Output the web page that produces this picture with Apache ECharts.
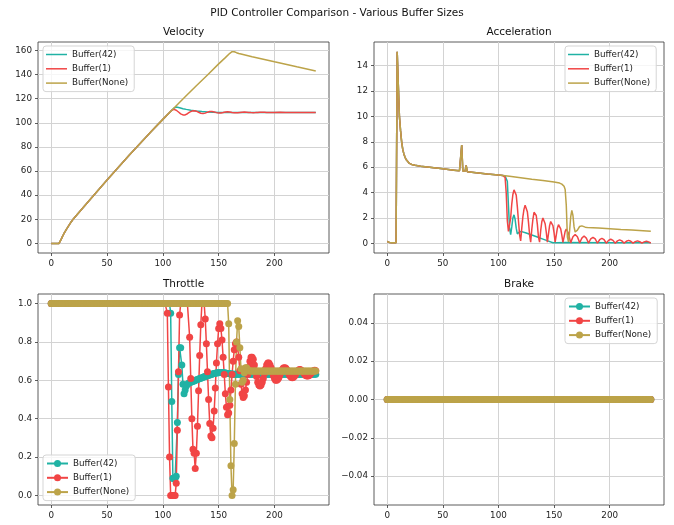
<!DOCTYPE html>
<html>
<head>
<meta charset="utf-8">
<title>PID Controller Comparison - Various Buffer Sizes</title>
<script src="https://cdn.jsdelivr.net/npm/echarts@6/dist/echarts.min.js"></script>
<style>
  html, body { margin: 0; padding: 0; background: #fff; }
  #chart { width: 674px; height: 525px; }
</style>
</head>
<body>
<div id="chart"></div>
<script>
// ---- data ----
const seriesNames = ['Buffer(42)', 'Buffer(1)', 'Buffer(None)'];

const xTicks = [0, 50, 100, 150, 200];
const velocityTicks = [0, 20, 40, 60, 80, 100, 120, 140, 160];
const accelTicks = [0, 2, 4, 6, 8, 10, 12, 14];
const throttleTicks = [0, 0.2, 0.4, 0.6, 0.8, 1.0];
const brakeTicks = [-0.04, -0.02, 0, 0.02, 0.04];

// velocity: shared ramp, then each buffer's tail  [step, value]
const velocityRamp = [[0, 0], [7, 0], [8, 1], [9, 3.5], [10, 5.6], [11, 7.4], [12, 9.1], [14, 12.2], [16, 15.1],
  [18, 18], [20, 20.5], [30, 31.3], [50, 52.5], [70, 73.2], [90, 93.2], [100, 102.8], [106, 108.5]];
const velocity42Tail = [[107, 109.5], [108, 110.4], [109, 111.3], [110, 112.1], [111, 112.7], [112, 113], [113, 112.9],
  [115, 112.4], [118, 111.7], [121, 111.1], [125, 110.4], [130, 109.8], [135, 109.3], [140, 109], [145, 108.8],
  [150, 108.6], [160, 108.5], [237, 108.5]];
const velocity1Tail = [[107, 109.5], [108, 110.4], [109, 111], [110, 111.1], [111, 110.9], [112, 110.4], [113, 109.7],
  [114, 108.9], [115, 108.1], [116, 107.4], [117, 106.9], [118, 106.5], [119, 106.4], [120, 106.5], [121, 106.9],
  [122, 107.5], [123, 108.2], [124, 108.8], [125, 109.3], [126, 109.7], [127, 109.95], [128, 110], [129, 109.9],
  [130, 109.6], [131, 109.2], [132, 108.7], [133, 108.2], [134, 107.9], [135, 107.65], [136, 107.6], [137, 107.7],
  [138, 108], [139, 108.4], [140, 108.8], [141, 109.1], [142, 109.3], [143, 109.4], [144, 109.4], [145, 109.3],
  [146, 109], [147, 108.7], [148, 108.4], [149, 108.2], [150, 108.05], [151, 108], [152, 108.05], [153, 108.2],
  [154, 108.45], [155, 108.7], [156, 108.9], [157, 109.05], [158, 109.1], [159, 109.05], [160, 108.9], [161, 108.7],
  [162, 108.5], [163, 108.35], [164, 108.25], [165, 108.2], [167, 108.3], [169, 108.55], [171, 108.8], [173, 108.9],
  [175, 108.8], [177, 108.6], [179, 108.45], [181, 108.4], [183, 108.45], [185, 108.6], [187, 108.72], [189, 108.75],
  [191, 108.7], [193, 108.6], [195, 108.52], [197, 108.5], [200, 108.55], [205, 108.65], [210, 108.6], [215, 108.55],
  [220, 108.6], [230, 108.6], [237, 108.6]];
const velocityNoneTail = [[110, 112.3], [120, 121.5], [130, 130.7], [140, 139.6], [150, 148.8], [156, 154],
  [160, 157.6], [161, 158.4], [162, 158.9], [163, 159], [164, 158.9], [165, 158.6], [166, 158.1], [167, 157.7],
  [168, 157.4], [170, 157], [180, 154.8], [200, 150.5], [220, 146.4], [237, 143]];

// acceleration: shared start, then tails
const accelShared = [[0, 0.15], [1, 0.12], [2, 0.08], [3, 0.06], [4, 0.05], [5, 0.05], [6, 0.05], [7, 0.05], [8, 0.05],
  [9, 15.1], [10, 12.5], [11, 10], [12, 8.9], [13, 8], [14, 7.4], [15, 7.05], [16, 6.8], [17, 6.6], [18, 6.45],
  [20, 6.3], [22, 6.22], [25, 6.15], [30, 6.07], [40, 5.97], [50, 5.87], [60, 5.77], [65, 5.72], [66, 5.71],
  [67, 7.75], [68, 5.7], [69, 5.66], [70, 5.68], [71, 6.15], [72, 5.65], [80, 5.57], [90, 5.47], [100, 5.38], [104, 5.34]];
const accel42Tail = [[105, 5.33], [106, 5.31], [107, 5.28], [108, 4.9], [109, 3], [110, 1.2], [111, 0.7], [112, 1.3],
  [113, 2], [114, 2.25], [115, 1.9], [116, 1.2], [117, 0.75], [118, 0.8], [119, 0.92], [120, 0.95], [121, 0.93],
  [125, 0.82], [130, 0.66], [135, 0.5], [140, 0.34], [145, 0.18], [149, 0.05], [150, 0.03], [152, 0.06], [160, 0.07],
  [200, 0.06], [237, 0.05]];
// Buffer(1) acceleration, one value per step from step 105
const accel1Start = 105;
const accel1Tail = [
  5.33, 5.2, 4.0, 1.8, 0.95, 0.85, 2.0, 3.1, 3.85, 4.22,      // 105
  4.25, 3.8, 2.9, 1.8, 0.7, 0.2, 1.2, 2.1, 2.7, 3.0,          // 115
  2.95, 2.5, 1.7, 0.7, 0.1, 1.1, 1.9, 2.45, 2.55, 2.2,        // 125
  1.5, 0.5, 0.1, 1.0, 1.7, 2.0, 1.95, 1.55, 0.9, 0.1,         // 135
  0.75, 1.4, 1.72, 1.72, 1.4, 0.85, 0.1, 0.65, 1.2, 1.48,     // 145
  1.45, 1.15, 0.65, 0.08, 0.5, 0.95, 1.12, 1.08, 0.8, 0.4,    // 155
  0.04, 0.3, 0.52, 0.66, 0.7, 0.66, 0.52, 0.3, 0.03, 0.23,    // 165
  0.42, 0.54, 0.58, 0.54, 0.42, 0.23, 0.02, 0.19, 0.35, 0.45, // 175
  0.48, 0.45, 0.35, 0.19, 0.02, 0.16, 0.29, 0.37, 0.4, 0.37,  // 185
  0.29, 0.16, 0.02, 0.13, 0.24, 0.31, 0.33, 0.31, 0.24, 0.13, // 195
  0.02, 0.11, 0.2, 0.26, 0.28, 0.26, 0.2, 0.11, 0.02, 0.1,    // 205
  0.17, 0.22, 0.24, 0.22, 0.17, 0.1, 0.02, 0.08, 0.14, 0.18,  // 215
  0.2, 0.18, 0.14, 0.08, 0.02, 0.07, 0.12, 0.16, 0.17, 0.16,  // 225
  0.12, 0.07, 0.03                                            // 235
];
const accelNoneTail = [[105, 5.33], [110, 5.28], [120, 5.17], [130, 5.06], [140, 4.96], [150, 4.84], [155, 4.75],
  [157, 4.67], [158, 4.6], [159, 4.5], [160, 4.25], [161, 3], [162, 0.5], [163, 0.12], [164, 1], [165, 2.1],
  [166, 2.6], [167, 2.2], [168, 1.3], [169, 0.9], [170, 0.95], [171, 1.05], [172, 1.2], [173, 1.33], [174, 1.4],
  [175, 1.38], [176, 1.32], [178, 1.28], [180, 1.26], [190, 1.22], [200, 1.16], [210, 1.1], [220, 1.05],
  [230, 1], [237, 0.96]];

// throttle, one value per step (0..237)
const throttle42 = [
  1, 1, 1, 1, 1, 1, 1, 1, 1, 1,   1, 1, 1, 1, 1, 1, 1, 1, 1, 1,   // 0
  1, 1, 1, 1, 1, 1, 1, 1, 1, 1,   1, 1, 1, 1, 1, 1, 1, 1, 1, 1,   // 20
  1, 1, 1, 1, 1, 1, 1, 1, 1, 1,   1, 1, 1, 1, 1, 1, 1, 1, 1, 1,   // 40
  1, 1, 1, 1, 1, 1, 1, 1, 1, 1,   1, 1, 1, 1, 1, 1, 1, 1, 1, 1,   // 60
  1, 1, 1, 1, 1, 1, 1, 1, 1, 1,   1, 1, 1, 1, 1, 1, 1, 1, 1, 1,   // 80
  1, 1, 1, 1, 1, 1, 1, 0.95, 0.49, 0.09,                          // 100
  0.085, 0.09, 0.1, 0.38, 0.63, 0.77, 0.77, 0.68, 0.58, 0.53,     // 110
  0.55, 0.57, 0.58, 0.585, 0.588, 0.59, 0.592, 0.595, 0.597, 0.6, // 120
  0.602, 0.604, 0.607, 0.609, 0.611, 0.614, 0.616, 0.618, 0.62, 0.622, // 130
  0.624, 0.626, 0.628, 0.63, 0.632, 0.634, 0.636, 0.637, 0.638, 0.639, // 140
  0.64, 0.641, 0.641, 0.641, 0.64, 0.639, 0.638, 0.637, 0.636, 0.635,  // 150
  0.634, 0.633, 0.633, 0.632, 0.632, 0.632, 0.632, 0.631, 0.631, 0.631, // 160
  0.631, 0.632, 0.632, 0.631, 0.631, 0.632, 0.632, 0.631, 0.631, 0.632, // 170
  0.632, 0.631, 0.631, 0.632, 0.632, 0.631, 0.631, 0.632, 0.632, 0.631, // 180
  0.631, 0.632, 0.632, 0.631, 0.631, 0.632, 0.632, 0.631, 0.631, 0.632, // 190
  0.632, 0.631, 0.631, 0.632, 0.632, 0.631, 0.631, 0.632, 0.632, 0.631, // 200
  0.631, 0.632, 0.632, 0.631, 0.631, 0.632, 0.632, 0.631, 0.631, 0.632, // 210
  0.632, 0.631, 0.631, 0.632, 0.632, 0.631, 0.631, 0.632, 0.632, 0.631, // 220
  0.631, 0.632, 0.632, 0.631, 0.631, 0.632, 0.632, 0.631              // 230
];
const throttle1 = [
  1, 1, 1, 1, 1, 1, 1, 1, 1, 1,   1, 1, 1, 1, 1, 1, 1, 1, 1, 1,   // 0
  1, 1, 1, 1, 1, 1, 1, 1, 1, 1,   1, 1, 1, 1, 1, 1, 1, 1, 1, 1,   // 20
  1, 1, 1, 1, 1, 1, 1, 1, 1, 1,   1, 1, 1, 1, 1, 1, 1, 1, 1, 1,   // 40
  1, 1, 1, 1, 1, 1, 1, 1, 1, 1,   1, 1, 1, 1, 1, 1, 1, 1, 1, 1,   // 60
  1, 1, 1, 1, 1, 1, 1, 1, 1, 1,   1, 1, 1, 1, 1, 1, 1, 1, 1, 1,   // 80
  1, 1, 1, 1, 0.95, 0.565, 0.2, 0, 0, 0,                          // 100
  0, 0, 0.063, 0.34, 0.645, 0.94, 1, 1, 1, 1,                     // 110
  1, 1, 1, 1, 0.825, 0.61, 0.4, 0.24, 0.22, 0.14,                 // 120
  0.22, 0.36, 0.545, 0.73, 0.89, 1, 1, 1, 0.92, 0.79,             // 130
  0.645, 0.5, 0.375, 0.31, 0.3, 0.35, 0.44, 0.56, 0.69, 0.79,     // 140
  0.87, 0.895, 0.87, 0.81, 0.72, 0.63, 0.53, 0.46, 0.42, 0.43,    // 150
  0.47, 0.55, 0.63, 0.7, 0.76, 0.79, 0.8, 0.77, 0.72, 0.65,       // 160
  0.58, 0.53, 0.51, 0.52, 0.55, 0.59, 0.63, 0.67, 0.7, 0.72,      // 170
  0.72, 0.71, 0.68, 0.65, 0.62, 0.59, 0.575, 0.57, 0.575, 0.59,   // 180
  0.61, 0.635, 0.66, 0.68, 0.69, 0.69, 0.68, 0.665, 0.645, 0.625, // 190
  0.61, 0.6, 0.6, 0.605, 0.615, 0.63, 0.645, 0.657, 0.664, 0.666, // 200
  0.664, 0.657, 0.645, 0.632, 0.622, 0.616, 0.614, 0.616, 0.622, 0.632, // 210
  0.642, 0.65, 0.655, 0.656, 0.653, 0.647, 0.639, 0.631, 0.625, 0.622, // 220
  0.622, 0.625, 0.631, 0.638, 0.645, 0.65, 0.652, 0.65            // 230
];
const throttleNone = [
  1, 1, 1, 1, 1, 1, 1, 1, 1, 1,   1, 1, 1, 1, 1, 1, 1, 1, 1, 1,   // 0
  1, 1, 1, 1, 1, 1, 1, 1, 1, 1,   1, 1, 1, 1, 1, 1, 1, 1, 1, 1,   // 20
  1, 1, 1, 1, 1, 1, 1, 1, 1, 1,   1, 1, 1, 1, 1, 1, 1, 1, 1, 1,   // 40
  1, 1, 1, 1, 1, 1, 1, 1, 1, 1,   1, 1, 1, 1, 1, 1, 1, 1, 1, 1,   // 60
  1, 1, 1, 1, 1, 1, 1, 1, 1, 1,   1, 1, 1, 1, 1, 1, 1, 1, 1, 1,   // 80
  1, 1, 1, 1, 1, 1, 1, 1, 1, 1,   1, 1, 1, 1, 1, 1, 1, 1, 1, 1,   // 100
  1, 1, 1, 1, 1, 1, 1, 1, 1, 1,   1, 1, 1, 1, 1, 1, 1, 1, 1, 1,   // 120
  1, 1, 1, 1, 1, 1, 1, 1, 1, 1,                                   // 140
  1, 1, 1, 1, 1, 1, 1, 1, 1, 0.895,                               // 150
  0.5, 0.155, 0, 0.03, 0.27, 0.58, 0.8, 0.91, 0.88, 0.77,         // 160
  0.66, 0.59, 0.6, 0.64, 0.665, 0.665, 0.657, 0.65, 0.648, 0.648, // 170
  0.648, 0.647, 0.648, 0.648, 0.647, 0.648, 0.648, 0.647, 0.648, 0.648, // 180
  0.647, 0.648, 0.648, 0.647, 0.648, 0.648, 0.647, 0.648, 0.648, 0.647, // 190
  0.648, 0.648, 0.647, 0.648, 0.648, 0.647, 0.648, 0.648, 0.647, 0.648, // 200
  0.648, 0.647, 0.648, 0.648, 0.647, 0.648, 0.648, 0.647, 0.648, 0.648, // 210
  0.647, 0.648, 0.648, 0.647, 0.648, 0.648, 0.647, 0.648, 0.648, 0.647, // 220
  0.648, 0.648, 0.647, 0.648, 0.648, 0.647, 0.648, 0.648                // 230
];

// brake stayed at zero for every buffer (0..237)
const brakeValues = [
  0, 0, 0, 0, 0, 0, 0, 0, 0, 0,   0, 0, 0, 0, 0, 0, 0, 0, 0, 0,
  0, 0, 0, 0, 0, 0, 0, 0, 0, 0,   0, 0, 0, 0, 0, 0, 0, 0, 0, 0,
  0, 0, 0, 0, 0, 0, 0, 0, 0, 0,   0, 0, 0, 0, 0, 0, 0, 0, 0, 0,
  0, 0, 0, 0, 0, 0, 0, 0, 0, 0,   0, 0, 0, 0, 0, 0, 0, 0, 0, 0,
  0, 0, 0, 0, 0, 0, 0, 0, 0, 0,   0, 0, 0, 0, 0, 0, 0, 0, 0, 0,
  0, 0, 0, 0, 0, 0, 0, 0, 0, 0,   0, 0, 0, 0, 0, 0, 0, 0, 0, 0,
  0, 0, 0, 0, 0, 0, 0, 0, 0, 0,   0, 0, 0, 0, 0, 0, 0, 0, 0, 0,
  0, 0, 0, 0, 0, 0, 0, 0, 0, 0,   0, 0, 0, 0, 0, 0, 0, 0, 0, 0,
  0, 0, 0, 0, 0, 0, 0, 0, 0, 0,   0, 0, 0, 0, 0, 0, 0, 0, 0, 0,
  0, 0, 0, 0, 0, 0, 0, 0, 0, 0,   0, 0, 0, 0, 0, 0, 0, 0, 0, 0,
  0, 0, 0, 0, 0, 0, 0, 0, 0, 0,   0, 0, 0, 0, 0, 0, 0, 0, 0, 0,
  0, 0, 0, 0, 0, 0, 0, 0, 0, 0,   0, 0, 0, 0, 0, 0, 0, 0
];

// ---- chart ----
const FONT = 'DejaVu Sans';
const colors = ['#20b2a4', '#f14545', '#bca349'];
const gridBoxes = [
  { left: 38, top: 42, width: 291, height: 211 },
  { left: 374, top: 42, width: 290, height: 211 },
  { left: 38, top: 294, width: 291, height: 211 },
  { left: 374, top: 294, width: 290, height: 211 }
];

const byStep = (values, start = 0) => values.map((v, i) => [start + i, v]);

const tickLabel = { color: '#222', fontFamily: FONT, fontSize: 8.75 };

function xAxis(gridIndex) {
  return {
    type: 'value', gridIndex, min: -11.85, max: 248.85,
    axisLine: { show: false, onZero: false },
    axisTick: { show: true, length: 3, customValues: xTicks, lineStyle: { color: '#333', width: 0.8 } },
    axisLabel: { ...tickLabel, customValues: xTicks, margin: 6 },
    splitLine: { show: true, lineStyle: { color: '#d3d3d3', width: 1 } }
  };
}

function yAxis(gridIndex, min, max, ticks, fmt) {
  return {
    type: 'value', gridIndex, min, max,
    axisLine: { show: false, onZero: false },
    axisTick: { show: true, length: 3, customValues: ticks, lineStyle: { color: '#333', width: 0.8 } },
    axisLabel: { ...tickLabel, customValues: ticks, margin: 6, formatter: fmt },
    splitLine: { show: true, lineStyle: { color: '#d3d3d3', width: 1 } }
  };
}

function line(prefix, idx, grid, data, markers) {
  return {
    name: prefix + seriesNames[idx],
    type: 'line',
    xAxisIndex: grid, yAxisIndex: grid,
    data,
    color: colors[idx],
    lineStyle: { width: 1.5, color: colors[idx] },
    itemStyle: { color: colors[idx] },
    symbol: markers ? 'circle' : 'none',
    symbolSize: 7,
    showSymbol: markers,
    showAllSymbol: true,
    silent: true,
    emphasis: { disabled: true },
    animation: false
  };
}

function legend(prefix, left, top, markers) {
  const l = {
    data: seriesNames.map(n => prefix + n),
    formatter: name => name.slice(prefix.length),
    orient: 'vertical', left, top,
    itemWidth: 21, itemHeight: markers ? 8.75 : 1.5,
    itemGap: 3.3,
    padding: [3, 6, 3, 3],
    backgroundColor: 'rgba(255,255,255,0.8)',
    borderColor: '#d5d5d5', borderWidth: 1, borderRadius: 3,
    selectedMode: false,
    textStyle: { fontFamily: FONT, fontSize: 8.75, color: '#222', lineHeight: 11 }
  };
  if (!markers) l.icon = 'rect';
  return l;
}

const subTitle = (text, x, y) => ({
  type: 'text', x, y, silent: true,
  style: { text, fill: '#111', fontFamily: FONT, fontSize: 10.5, align: 'center', verticalAlign: 'middle' }
});

const fmtInt = v => String(v);
const fmt1 = v => v.toFixed(1);
const fmtBrake = v => (v < -1e-9 ? '\u2212' : '') + Math.abs(v).toFixed(2);

const chart = echarts.init(document.getElementById('chart'));
chart.setOption({
  animation: false,
  backgroundColor: '#fff',
  title: {
    text: 'PID Controller Comparison - Various Buffer Sizes',
    left: 'center', top: 3,
    textStyle: { fontFamily: FONT, fontSize: 10.5, fontWeight: 'normal', color: '#111' }
  },
  graphic: [
    subTitle('Velocity', 183.5, 32.5),
    subTitle('Acceleration', 519, 32.5),
    subTitle('Throttle', 183.5, 284.5),
    subTitle('Brake', 519, 284.5)
  ],
  grid: gridBoxes.map(b => ({ ...b, show: true, borderColor: '#333', borderWidth: 0.8, containLabel: false })),
  xAxis: [0, 1, 2, 3].map(xAxis),
  yAxis: [
    yAxis(0, -7.95, 166.95, velocityTicks, fmtInt),
    yAxis(1, -0.755, 15.86, accelTicks, fmtInt),
    yAxis(2, -0.05, 1.05, throttleTicks, fmt1),
    yAxis(3, -0.055, 0.055, brakeTicks, fmtBrake)
  ],
  legend: [
    legend('v:', 43, 46, false),
    legend('a:', 565, 46, false),
    legend('t:', 43, 455, true),
    legend('b:', 565, 298, true)
  ],
  series: [
    line('v:', 0, 0, velocityRamp.concat(velocity42Tail), false),
    line('v:', 1, 0, velocityRamp.concat(velocity1Tail), false),
    line('v:', 2, 0, velocityRamp.concat(velocityNoneTail), false),
    line('a:', 0, 1, accelShared.concat(accel42Tail), false),
    line('a:', 1, 1, accelShared.concat(byStep(accel1Tail, accel1Start)), false),
    line('a:', 2, 1, accelShared.concat(accelNoneTail), false),
    line('t:', 0, 2, byStep(throttle42), true),
    line('t:', 1, 2, byStep(throttle1), true),
    line('t:', 2, 2, byStep(throttleNone), true),
    line('b:', 0, 3, byStep(brakeValues), true),
    line('b:', 1, 3, byStep(brakeValues), true),
    line('b:', 2, 3, byStep(brakeValues), true)
  ]
});
</script>
</body>
</html>
